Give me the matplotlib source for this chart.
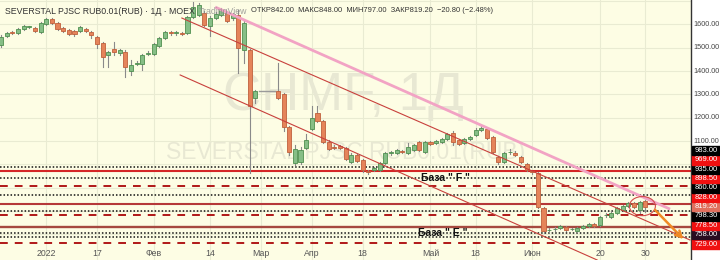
import matplotlib
matplotlib.use("Agg")
import matplotlib.pyplot as plt
from matplotlib.patches import Ellipse, FancyArrowPatch
import matplotlib.transforms as mtransforms
import numpy as np

plt.rcParams['font.family'] = ['Liberation Sans', 'DejaVu Sans']

# ---------------- data (daily candles, CHMF, Dec 2021 - Jun 2022) ----------------
opens = [1511, 1550, 1567, 1563, 1580, 1589, 1584, 1567, 1601, 1623,
         1606, 1584, 1576, 1571, 1571, 1580, 1567, 1546, 1520, 1469,
         1494, 1477, 1481, 1400, 1432, 1430, 1475, 1473, 1507, 1541,
         1567, 1563, 1565, 1563, 1631, 1640, 1649, 1593, 1627, 1640,
         1649, 1627, 1640, 1490, 1490, 1284, 1314, 1314, 1314, 1314,
         1301, 1160, 1006, 1010, 1070, 1151, 1220, 1186, 1096, 1076,
         1079, 1070, 1010, 1040, 1019, 970, 976, 976, 1006, 1047,
         1049, 1055, 1049, 1061, 1096, 1053, 1096, 1091, 1096, 1109,
         1134, 1104, 1091, 1109, 1126, 1147, 1151, 1117, 1031, 1010,
         1051, 1049, 1031, 1001, 970, 963, 813, 717, 721, 727,
         731, 722, 714, 727, 736, 744, 740, 781, 774, 791,
         804, 821, 834, 804, 842]
highs = [1555, 1567, 1571, 1584, 1597, 1593, 1589, 1610, 1627, 1627,
         1610, 1589, 1580, 1576, 1593, 1584, 1571, 1550, 1524, 1486,
         1524, 1494, 1490, 1447, 1443, 1473, 1486, 1520, 1546, 1571,
         1571, 1571, 1569, 1636, 1696, 1690, 1657, 1636, 1653, 1670,
         1657, 1649, 1661, 1614, 1494, 1320, 1314, 1314, 1314, 1434,
         1305, 1165, 1083, 1074, 1130, 1250, 1250, 1190, 1104, 1083,
         1083, 1074, 1049, 1044, 1023, 976, 990, 1010, 1053, 1057,
         1066, 1061, 1091, 1087, 1100, 1100, 1100, 1104, 1113, 1134,
         1143, 1109, 1113, 1121, 1156, 1165, 1156, 1121, 1036, 1053,
         1066, 1057, 1036, 1006, 972, 967, 817, 727, 731, 740,
         736, 728, 731, 740, 748, 748, 778, 791, 796, 817,
         826, 839, 839, 845, 848]
lows = [1503, 1546, 1559, 1559, 1576, 1584, 1567, 1563, 1597, 1601,
        1576, 1567, 1554, 1550, 1567, 1567, 1541, 1499, 1417, 1417,
        1469, 1469, 1374, 1383, 1426, 1404, 1469, 1469, 1503, 1537,
        1554, 1556, 1554, 1559, 1627, 1636, 1593, 1550, 1623, 1636,
        1610, 1619, 1391, 1434, 965, 1262, 1314, 1314, 1314, 1280,
        1143, 1040, 996, 1001, 1066, 1147, 1182, 1091, 1061, 1066,
        1066, 1019, 1006, 1010, 967, 960, 970, 970, 1001, 1040,
        1044, 1049, 1044, 1057, 1057, 1049, 1083, 1087, 1091, 1104,
        1083, 1083, 1087, 1104, 1121, 1143, 1109, 1049, 1001, 1006,
        1044, 1036, 1006, 970, 960, 813, 706, 712, 714, 723,
        714, 718, 710, 723, 731, 731, 736, 774, 770, 787,
        800, 817, 813, 791, 797]
closes = [1546, 1563, 1563, 1580, 1593, 1590, 1571, 1606, 1623, 1606,
          1580, 1571, 1559, 1559, 1589, 1571, 1554, 1516, 1460, 1481,
          1481, 1490, 1417, 1426, 1436, 1469, 1479, 1516, 1541, 1567,
          1561, 1565, 1559, 1631, 1674, 1683, 1597, 1627, 1644, 1661,
          1614, 1644, 1499, 1606, 1250, 1314, 1314, 1314, 1314, 1284,
          1160, 1053, 1066, 1061, 1104, 1199, 1186, 1096, 1066, 1072,
          1070, 1023, 1040, 1014, 976, 968, 984, 1006, 1049, 1051,
          1061, 1053, 1074, 1083, 1061, 1096, 1087, 1100, 1109, 1130,
          1096, 1087, 1109, 1117, 1147, 1156, 1113, 1053, 1010, 1049,
          1055, 1040, 1010, 976, 966, 817, 714, 720, 724, 736,
          719, 724, 727, 736, 744, 736, 774, 784, 791, 813,
          821, 834, 817, 839, 819.2]

time_tick_idx = [8, 17, 27, 37, 46, 55, 64, 76, 84, 94, 106, 114]
time_tick_labels = ['2022', '17', 'Фев', '14', 'Мар', 'Апр', '18', 'Май', '18', 'Июн', '20', '30']

price_ticks = [1600, 1500, 1400, 1300, 1200, 1100]
grid_prices = [1700, 1600, 1500, 1400, 1300, 1200, 1100, 1000, 900, 800, 700]

# horizontal level drawings
level_prices = [990, 973, 943, 907, 870, 831, 801, 783, 733, 704, 690, 663]
level_styles = ['dot', 'solid', 'dot', 'dash', 'dot', 'solid2', 'dot', 'dash', 'solid3', 'dot', 'dot', 'dash']

# price tags on the right axis (top to bottom)
tag_values = ['983.00', '969.00', '935.00', '898.50', '860.00', '828.00',
              '819.20', '798.30', '778.50', '758.00', '729.00']
tag_colors = ['#000000', '#f01010', '#000000', '#f01010', '#000000', '#f01010',
              '#e0705e', '#000000', '#f01010', '#2a0c20', '#f01010']

# trend lines: (index, price) endpoints
pink_line = [(37.9, 1674), (118.4, 808)]
upper_channel = [(32.0, 1627), (121.9, 676)]
lower_channel = [(31.7, 1383), (105.5, 590)]
arrow_pts = [(115.4, 813), (121.1, 671)]
circle_center = (113.5, 821)

base_labels = ['База " F "', 'База " E "']
base_label_pos = [(74.3, 943), (73.8, 706)]

# ---------------- figure ----------------
W, H = 720, 260
fig = plt.figure(figsize=(W / 100, H / 100), dpi=100)
fig.patch.set_facecolor('white')
plot_w = 691
ax = fig.add_axes([0, 0, plot_w / W, 1])
ax.set_facecolor('#fdfde4')
for s in ax.spines.values():
    s.set_visible(False)
ax.set_xticks([])
ax.set_yticks([])

ymax = 1704.3
ymin = 590.0
ax.set_ylim(ymin, ymax)
ax.set_xlim(-0.18, 122.1)

# grid
for gp in grid_prices:
    ax.axhline(gp, color='#e9ebd2', lw=0.8, zorder=0)
for ti in time_tick_idx:
    ax.axvline(ti, color='#e9ebd2', lw=0.8, zorder=0)

# watermarks
ax.text(0.497, 1 - 96 / H, 'CHMF, 1Д', transform=ax.transAxes, fontsize=38,
        color='#e8e8d3', ha='center', va='center', zorder=1)
ax.text(0.50, 1 - 153 / H, 'SEVERSTAL PJSC RUB0.01(RUB)', transform=ax.transAxes,
        fontsize=16.5, color='#e8e8d3', ha='center', va='center', zorder=1)

# horizontal levels
for p, st in zip(level_prices, level_styles):
    if st == 'dot':
        ax.axhline(p, color='#111111', lw=1.1, ls=(0, (1, 1.3)), zorder=2)
    elif st == 'dash':
        ax.axhline(p, color='#b01818', lw=1.4, ls=(0, (4, 3.6)), zorder=2)
    elif st == 'solid':
        ax.axhline(p, color='#d42626', lw=1.5, zorder=2)
    elif st == 'solid2':
        ax.axhline(p, color='#b53838', lw=1.5, zorder=2)
    else:
        ax.axhline(p, color='#a6493f', lw=1.7, zorder=2)

# candles
x = np.arange(len(opens))
o = np.array(opens, float)
h = np.array(highs, float)
l = np.array(lows, float)
c = np.array(closes, float)
up = c > o
flat = (h == l)
body_w = 0.72
for i in range(len(x)):
    if flat[i]:
        ax.plot([x[i] - 0.4, x[i] + 0.4], [o[i], o[i]], color='#9a9a9a', lw=1.0, zorder=3)
        continue
    ax.plot([x[i], x[i]], [l[i], h[i]], color='#8a8a8a', lw=0.8, zorder=3)
    bottom = min(o[i], c[i])
    height = max(abs(c[i] - o[i]), 2.5)
    if up[i]:
        fc, ec = '#86be86', '#4f8f4f'
    else:
        fc, ec = '#e5845a', '#c0603c'
    ax.bar(x[i], height, bottom=bottom, width=body_w, color=fc, edgecolor=ec,
           linewidth=0.6, zorder=4)

# trend lines
ax.plot([pink_line[0][0], pink_line[1][0]], [pink_line[0][1], pink_line[1][1]],
        color='#f2a3c4', lw=2.0, zorder=5, solid_capstyle='butt')
ax.plot([upper_channel[0][0], upper_channel[1][0]], [upper_channel[0][1], upper_channel[1][1]],
        color='#c8403c', lw=0.8, zorder=5)
ax.plot([lower_channel[0][0], lower_channel[1][0]], [lower_channel[0][1], lower_channel[1][1]],
        color='#c8403c', lw=0.8, zorder=5, clip_on=False)

ax.add_patch(Ellipse(circle_center, width=4.6, height=82, fill=False,
                     edgecolor='#d24a4a', lw=0.8, zorder=6))
ax.add_patch(FancyArrowPatch(arrow_pts[0], arrow_pts[1], arrowstyle='->',
                             mutation_scale=11, color='#f08a24', lw=1.8, zorder=6))

for txt, pos in zip(base_labels, base_label_pos):
    ax.text(pos[0], pos[1], txt, fontsize=7.5, fontweight='bold', color='#111111',
            ha='left', va='center', zorder=7)

# time axis labels
trans = mtransforms.blended_transform_factory(ax.transData, ax.transAxes)
for ti, tl in zip(time_tick_idx, time_tick_labels):
    ax.text(ti, 1 - 254 / H, tl, transform=trans, fontsize=6.3, color='#555555',
            ha='center', va='center', zorder=7)

# legend header
fig.text(5 / W, 1 - 11 / H, 'SEVERSTAL PJSC RUB0.01(RUB) · 1Д · MOEX', fontsize=6.3,
         color='#333333', ha='left', va='center')
fig.text(199 / W, 1 - 11 / H, 'TradingView', fontsize=6.3, color='#8a8a8a',
         ha='left', va='center', alpha=0.8)
fig.text(251 / W, 1 - 11 / H, 'ОТКР842.00  МАКС848.00  МИН797.00  ЗАКР819.20  −20.80 (−2.48%)',
         fontsize=5.4, color='#333333', ha='left', va='center')

# right price axis
ax2 = fig.add_axes([plot_w / W, 0, (W - plot_w) / W, 1])
ax2.set_facecolor('white')
ax2.set_ylim(ymin, ymax)
ax2.set_xlim(0, 1)
ax2.set_xticks([])
ax2.set_yticks([])
for k, s in ax2.spines.items():
    s.set_visible(k == 'left')
ax2.spines['left'].set_color('#333333')
ax2.spines['left'].set_linewidth(1.0)
for pt in price_ticks:
    ax2.text(0.53, pt, f'{pt:.2f}', fontsize=5.2, color='#444444', ha='center',
             va='center')

tag_h = 9.3 / H
n_tags = len(tag_values)
for k in range(n_tags):
    j = n_tags - 1 - k
    yc = 1 - (244 - k * 9.35) / H
    ax2.add_patch(plt.Rectangle((0.03, yc - tag_h / 2), 0.97, tag_h, transform=ax2.transAxes,
                                color=tag_colors[j], zorder=3, clip_on=False))
    ax2.text(0.53, yc, tag_values[j], transform=ax2.transAxes, fontsize=5.5,
             color='white', ha='center', va='center', zorder=4)

fig.savefig('out.png', dpi=100, facecolor=fig.get_facecolor())
